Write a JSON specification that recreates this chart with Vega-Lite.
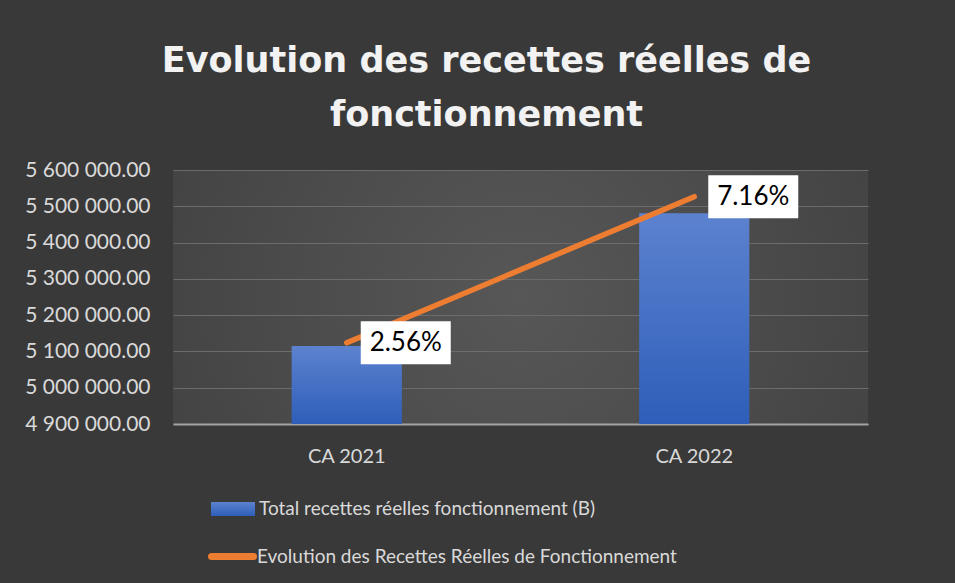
{
  "$schema": "https://vega.github.io/schema/vega-lite/v6.json",
  "width": 695,
  "height": 254,
  "autosize": {"type": "none"},
  "padding": {"left": 173, "top": 170, "right": 87, "bottom": 159},
  "background": "#393939",
  "config": {
    "locale": {"number": {"decimal": ".", "thousands": " ", "grouping": [3], "currency": ["", ""]}},
    "view": {"stroke": null, "fill": {"gradient": "radial", "x1": 0.5, "y1": 0.5, "r1": 0, "x2": 0.5, "y2": 0.5, "r2": 0.75, "stops": [{"offset": 0, "color": "#575757"}, {"offset": 1, "color": "#3c3c3c"}]}},
    "font": "Lato",
    "axis": {"labelFont": "Lato", "labelFontSize": 21, "labelColor": "#d9d9d9", "ticks": false, "domain": false, "grid": false, "title": null},
    "legend": {"labelFont": "Lato", "labelFontSize": 19, "labelColor": "#d9d9d9", "labelLimit": 700, "padding": 0, "title": null}
  },
  "title": {
    "text": ["Evolution des recettes réelles de", "fonctionnement"],
    "font": "DejaVu Sans",
    "fontSize": 35,
    "fontWeight": "bold",
    "color": "#f2f2f2",
    "anchor": "middle",
    "frame": "group",
    "dx": -34,
    "offset": 26,
    "lineHeight": 54
  },
  "data": {
    "values": [
      {"cat": "CA 2021", "total": 5115000, "evol": 0.0256},
      {"cat": "CA 2022", "total": 5481000, "evol": 0.0716}
    ]
  },
  "encoding": {
    "x": {
      "field": "cat",
      "type": "nominal",
      "sort": null,
      "scale": {"paddingInner": 0, "paddingOuter": 0},
      "axis": {"domain": true, "domainColor": "#a3a3a3", "domainWidth": 2, "labelAngle": 0, "labelPadding": 22, "labelFontSize": 20}
    }
  },
  "layer": [
    {
      "mark": {"type": "bar", "width": {"band": 0.317}, "fill": {"gradient": "linear", "x1": 0, "y1": 0, "x2": 0, "y2": 1, "stops": [{"offset": 0, "color": "#5c82cf"}, {"offset": 1, "color": "#2e5eb9"}]}},
      "encoding": {
        "y": {
          "field": "total",
          "type": "quantitative",
          "scale": {"domain": [4900000, 5600000], "zero": false, "nice": false},
          "axis": {"orient": "left", "grid": true, "gridColor": "#6c6c6c", "gridWidth": 1.2, "values": [4900000, 5000000, 5100000, 5200000, 5300000, 5400000, 5500000, 5600000], "format": ",.2f", "labelPadding": 23}
        },
        "y2": {"datum": 4900000},
        "opacity": {
          "datum": "Total recettes réelles fonctionnement (B)",
          "type": "ordinal",
          "scale": {"range": [1]},
          "legend": {"orient": "none", "legendX": 38, "legendY": 317, "symbolType": "M-1,-0.32L1,-0.32L1,0.32L-1,0.32Z", "symbolSize": 1936, "symbolStrokeWidth": 0, "symbolFillColor": "#4a76c8", "symbolOpacity": 1, "labelOffset": 4}
        }
      }
    },
    {
      "encoding": {
        "y": {
          "field": "evol",
          "type": "quantitative",
          "scale": {"domain": [0, 0.08], "nice": false}
        }
      },
      "layer": [
        {
          "mark": {"type": "line", "strokeWidth": 5.5, "strokeCap": "round"},
          "encoding": {
            "y": {
              "field": "evol",
              "type": "quantitative",
              "axis": {"orient": "right", "values": [0, 0.02, 0.04, 0.06, 0.08], "format": ".2%", "labelPadding": 23}
            },
            "stroke": {
              "datum": "Evolution des Recettes Réelles de Fonctionnement",
              "type": "nominal",
              "scale": {"range": ["#ed7d31"]},
              "legend": {"orient": "none", "legendX": 35, "legendY": 362, "symbolType": "stroke", "symbolSize": 1764, "symbolStrokeWidth": 7, "labelOffset": 0, "encode": {"symbols": {"update": {"strokeCap": {"value": "round"}}}}}
            }
          }
        },
        {
          "mark": {"type": "point", "shape": "M-1,-0.478L1,-0.478L1,0.478L-1,0.478Z", "size": 8100, "filled": true, "fill": "#ffffff", "opacity": 1, "strokeWidth": 0, "xOffset": 59},
          "encoding": {
            "y": {"field": "evol", "type": "quantitative", "axis": null}
          }
        },
        {
          "mark": {"type": "text", "fontSize": 26, "font": "Lato", "color": "#000000", "align": "center", "baseline": "middle", "dx": 59},
          "encoding": {
            "y": {"field": "evol", "type": "quantitative", "axis": null},
            "text": {"field": "evol", "type": "quantitative", "format": ".2%"}
          }
        }
      ]
    }
  ],
  "resolve": {"scale": {"y": "independent"}}
}
